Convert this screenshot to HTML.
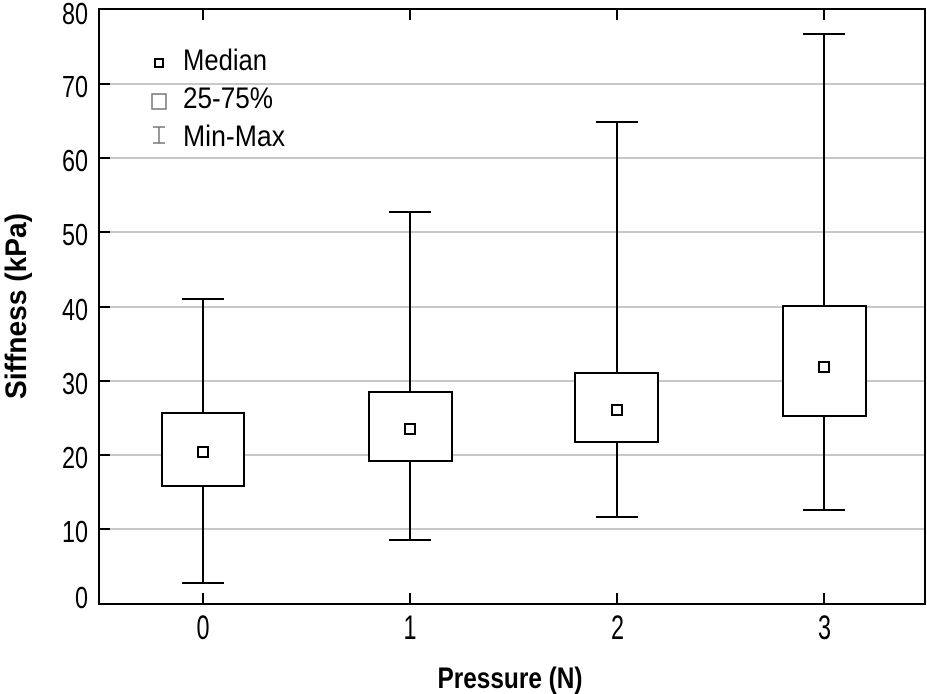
<!DOCTYPE html>
<html><head><meta charset="utf-8"><style>
html,body{margin:0;padding:0;background:#fff;}
svg{display:block;}
text{font-family:"Liberation Sans",sans-serif;fill:#000;}
</style></head><body>
<svg width="927" height="694" viewBox="0 0 927 694" xmlns="http://www.w3.org/2000/svg">
<g stroke="#c8c8c8" stroke-width="2">
<line x1="99" y1="84" x2="925" y2="84"/>
<line x1="99" y1="158" x2="925" y2="158"/>
<line x1="99" y1="232" x2="925" y2="232"/>
<line x1="99" y1="307" x2="925" y2="307"/>
<line x1="99" y1="381" x2="925" y2="381"/>
<line x1="99" y1="455" x2="925" y2="455"/>
<line x1="99" y1="529" x2="925" y2="529"/>
</g>
<rect x="99" y="9" width="826" height="595" fill="none" stroke="#000" stroke-width="2"/>
<g stroke="#000" stroke-width="2">
<line x1="99" y1="84" x2="110" y2="84"/><line x1="99" y1="158" x2="110" y2="158"/>
<line x1="99" y1="232" x2="110" y2="232"/><line x1="99" y1="307" x2="110" y2="307"/>
<line x1="99" y1="381" x2="110" y2="381"/><line x1="99" y1="455" x2="110" y2="455"/>
<line x1="99" y1="529" x2="110" y2="529"/>
<line x1="203" y1="604" x2="203" y2="593"/><line x1="410" y1="604" x2="410" y2="593"/>
<line x1="617" y1="604" x2="617" y2="593"/><line x1="824" y1="604" x2="824" y2="593"/>
<line x1="203" y1="9" x2="203" y2="20"/><line x1="410" y1="9" x2="410" y2="20"/>
<line x1="617" y1="9" x2="617" y2="20"/><line x1="824" y1="9" x2="824" y2="20"/>
</g>
<g font-size="31" text-anchor="end">
<text x="88" y="24" textLength="26" lengthAdjust="spacingAndGlyphs">80</text>
<text x="88" y="97" textLength="26" lengthAdjust="spacingAndGlyphs">70</text>
<text x="88" y="171" textLength="26" lengthAdjust="spacingAndGlyphs">60</text>
<text x="88" y="245" textLength="26" lengthAdjust="spacingAndGlyphs">50</text>
<text x="88" y="320" textLength="26" lengthAdjust="spacingAndGlyphs">40</text>
<text x="88" y="394" textLength="26" lengthAdjust="spacingAndGlyphs">30</text>
<text x="88" y="468" textLength="26" lengthAdjust="spacingAndGlyphs">20</text>
<text x="88" y="542" textLength="26" lengthAdjust="spacingAndGlyphs">10</text>
<text x="88" y="608" textLength="13" lengthAdjust="spacingAndGlyphs">0</text>
</g>
<g font-size="34">
<text x="196.5" y="639" textLength="13" lengthAdjust="spacingAndGlyphs">0</text>
<text x="403.5" y="639" textLength="13" lengthAdjust="spacingAndGlyphs">1</text>
<text x="611" y="639" textLength="13" lengthAdjust="spacingAndGlyphs">2</text>
<text x="818" y="639" textLength="13" lengthAdjust="spacingAndGlyphs">3</text>
</g>
<text x="510" y="688" font-size="30" font-weight="bold" text-anchor="middle" textLength="145" lengthAdjust="spacingAndGlyphs">Pressure (N)</text>
<text transform="translate(26,306) rotate(-90)" font-size="30" font-weight="bold" text-anchor="middle" textLength="186" lengthAdjust="spacingAndGlyphs">Siffness (kPa)</text>
<g stroke="#000" stroke-width="2" fill="none">
<line x1="203" y1="299" x2="203" y2="413"/><line x1="203" y1="486" x2="203" y2="583"/>
<line x1="182" y1="299" x2="224" y2="299"/><line x1="182" y1="583" x2="224" y2="583"/>
<rect x="162" y="413" width="82" height="73" fill="#fff"/>
<rect x="198" y="447" width="10" height="10"/>
<line x1="410" y1="212" x2="410" y2="392"/><line x1="410" y1="461" x2="410" y2="540"/>
<line x1="389" y1="212" x2="431" y2="212"/><line x1="389" y1="540" x2="431" y2="540"/>
<rect x="369" y="392" width="83" height="69" fill="#fff"/>
<rect x="405" y="424" width="10" height="10"/>
<line x1="617" y1="122" x2="617" y2="373"/><line x1="617" y1="442" x2="617" y2="517"/>
<line x1="596" y1="122" x2="638" y2="122"/><line x1="596" y1="517" x2="638" y2="517"/>
<rect x="575" y="373" width="83" height="69" fill="#fff"/>
<rect x="612" y="405" width="10" height="10"/>
<line x1="824" y1="34" x2="824" y2="306"/><line x1="824" y1="416" x2="824" y2="510"/>
<line x1="803" y1="34" x2="845" y2="34"/><line x1="803" y1="510" x2="845" y2="510"/>
<rect x="783" y="306" width="83" height="110" fill="#fff"/>
<rect x="819" y="362" width="10" height="10"/>
<rect x="155" y="59" width="8" height="8"/>
</g>
<rect x="152" y="94" width="14" height="15" fill="none" stroke="#777" stroke-width="1.5"/>
<g stroke="#777" stroke-width="1.5">
<line x1="159" y1="127" x2="159" y2="143"/><line x1="153" y1="127" x2="165" y2="127"/><line x1="153" y1="143" x2="165" y2="143"/>
</g>
<g font-size="30">
<text x="183" y="70" textLength="84" lengthAdjust="spacingAndGlyphs">Median</text>
<text x="183" y="108" textLength="90" lengthAdjust="spacingAndGlyphs">25-75%</text>
<text x="183" y="146" textLength="102" lengthAdjust="spacingAndGlyphs">Min-Max</text>
</g>
</svg>
</body></html>
